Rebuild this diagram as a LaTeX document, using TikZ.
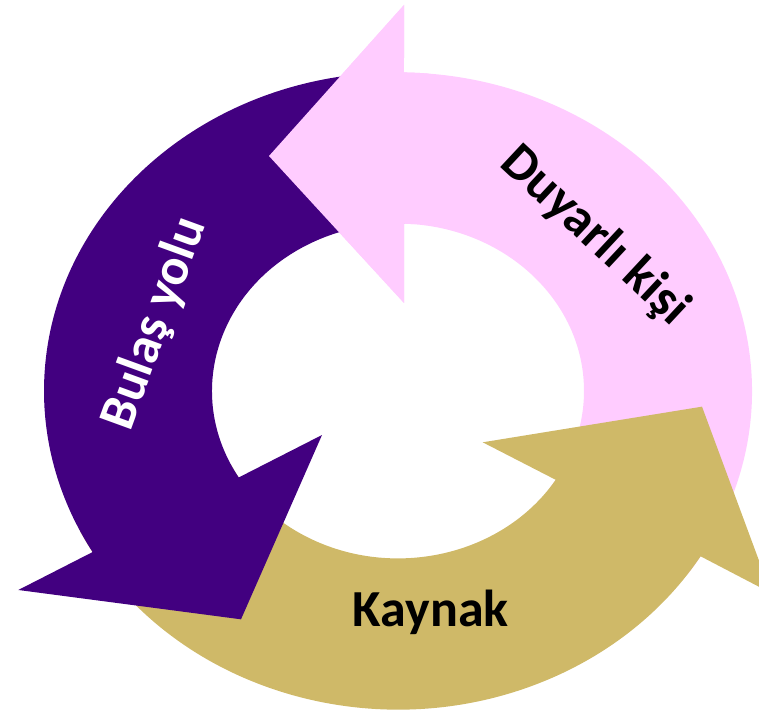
\documentclass[tikz,border=0pt]{standalone}
\usepackage{fontspec}
\setmainfont{Carlito}
\definecolor{pinkc}{RGB}{255,204,255}
\definecolor{purplec}{RGB}{66,0,128}
\definecolor{goldc}{RGB}{207,185,104}
\tikzset{
  pinkarrow/.style={fill=pinkc, draw=none},
  purplearrow/.style={fill=purplec, draw=none},
  goldarrow/.style={fill=goldc, draw=none},
  cyclelabel/.style={font=\fontsize{52}{60}\selectfont\bfseries, inner sep=0pt, anchor=base}
}
\begin{document}
\begin{tikzpicture}[x=1pt,y=1pt]
\useasboundingbox (0,0) rectangle (759,711);
\clip (0,0) rectangle (759,711);
\begin{scope}[shift={(398,320)}, yscale=0.9]
  % pink arrow (Duyarli kisi)
  \path[pinkarrow] (-35:354) arc[start angle=-35, end angle=89.03, radius=354]
     -- (6,428.9) -- (-129,261.1) -- (6,97.8)
     -- (88.15:186) arc[start angle=88.15, end angle=-35, radius=186] -- cycle;
  % gold arrow (Kaynak)
  \path[goldarrow] (206:354) arc[start angle=206, end angle=328.74, radius=354]
     -- (373,-224.5) -- (304,-17.4) -- (84.7,-57)
     -- (327.96:186) arc[start angle=327.96, end angle=206, radius=186] -- cycle;
  % purple arrow (Bulas yolu)
  \path[purplearrow] (89.03:354) arc[start angle=89.03, end angle=210.37, radius=354]
     -- (-379.7,-221.1) -- (-157,-253.7) -- (-76,-48.9)
     -- (211.1:186) arc[start angle=211.1, end angle=88.15, radius=186] -- cycle;
  % pink head on top of purple tail
  \path[pinkarrow] (85:354) arc[start angle=85, end angle=89.03, radius=354]
     -- (6,428.9) -- (-129,261.1) -- (6,97.8)
     -- (88.15:186) arc[start angle=88.15, end angle=85, radius=186] -- cycle;
\end{scope}
\node[cyclelabel, text=black] (kaynak) at (430.8,84) {Kaynak};
\node[cyclelabel, text=black, rotate=-43] (duyarli) at (585.5,465) {Duyarlı kişi};
\node[cyclelabel, text=white, rotate=70] (bulas) at (168,382.5) {Bulaş yolu};
\end{tikzpicture}
\end{document}
